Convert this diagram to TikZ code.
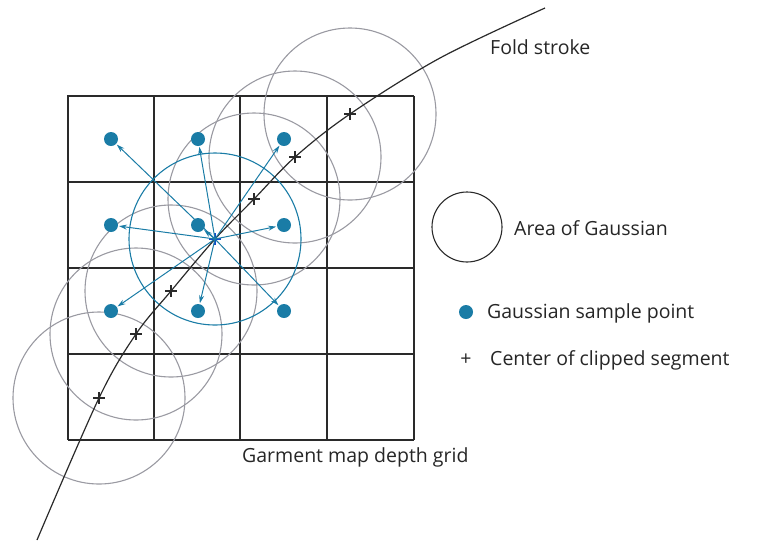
\documentclass[tikz,border=0pt]{standalone}
\usepackage{fontspec}
\setmainfont{Open Sans}
\usetikzlibrary{arrows.meta}
\definecolor{gblue}{HTML}{1A7CA6}
\definecolor{ggray}{HTML}{9A9AA2}
\definecolor{gline}{HTML}{2A2A2A}
\tikzset{
  dot/.style={circle,fill=gblue,inner sep=0pt,minimum size=14pt},
  gcirc/.style={draw=ggray,line width=1.1pt},
  thin grid/.style={draw=gline,line width=1.1pt},
  thick grid/.style={draw=gline,line width=1.8pt},
  samplearrow/.style={draw=gblue,line width=1pt,-{Stealth[length=8pt,width=5pt]},shorten >=8pt},
  lbl/.style={font=\fontsize{19.5pt}{21pt}\selectfont,text=black!85,inner sep=0pt,anchor=west},
  crossmark/.style={draw=gline,line width=1.1pt}
}
\begin{document}
\begin{tikzpicture}[x=1pt,y=-1pt]
\useasboundingbox (0,0) rectangle (759,542);
% grid
\foreach \x in {68,154,240,327,414} \draw[thin grid] (\x,96) -- (\x,440);
\foreach \y in {96,182,268,354,440} \draw[thin grid] (68,\y) -- (414,\y);
\draw[thick grid] (68,354) -- (68,96) -- (327,96) -- (327,354) -- cycle;
% segment centres
\coordinate (s1) at (99,398);
\coordinate (s2) at (136,334);
\coordinate (s3) at (171,291);
\coordinate (c)  at (215,239);
\coordinate (s5) at (254,199);
\coordinate (s6) at (295,157);
\coordinate (s7) at (350,114);
% gaussian areas
\foreach \p in {s1,s2,s3,s5,s6,s7} \draw[gcirc] (\p) circle (86);
\draw[draw=gblue,line width=1.1pt] (c) circle (86);
% fold stroke
\draw[gline,line width=1.2pt] plot[smooth,tension=0.55] coordinates {(37,540) (99,398) (136,334) (171,291) (215,239) (254,199) (295,157) (350,114) (440,58) (545,8)};
\foreach \p in {s1,s2,s3,s5,s6,s7}
  \draw[crossmark] (\p) +(-6,0) -- +(6,0) (\p) +(0,-6) -- +(0,6);
\draw[draw=gblue!60!blue,line width=1.2pt] (c) +(-6,0) -- +(6,0) (c) +(0,-6) -- +(0,6);
% sample points
\node[dot] (d11) at (111,139) {};
\node[dot] (d12) at (198,139) {};
\node[dot] (d13) at (284,139) {};
\node[dot] (d21) at (111,225) {};
\node[dot] (d22) at (198,225) {};
\node[dot] (d23) at (284,225) {};
\node[dot] (d31) at (111,311) {};
\node[dot] (d32) at (198,311) {};
\node[dot] (d33) at (284,311) {};
\foreach \d in {d11,d12,d13,d21,d22,d23,d31,d32,d33}
  \draw[samplearrow] (c) -- (\d.center);
% labels
\node[lbl] (fold) at (490,47) {Fold stroke};
\node[lbl] (grid) at (242,457) {Garment map depth grid};
\node[draw=gline,line width=1.1pt,circle,minimum size=70pt,inner sep=0pt] (lc) at (467,227) {};
\node[lbl] (la) at (514,228) {Area of Gaussian};
\node[dot] (ld) at (466,312) {};
\node[lbl] (lb) at (487,313) {Gaussian sample point};
\node[lbl,anchor=center] (lp) at (466,360) {+};
\node[lbl] (lcs) at (490,360) {Center of clipped segment};
\end{tikzpicture}
\end{document}
